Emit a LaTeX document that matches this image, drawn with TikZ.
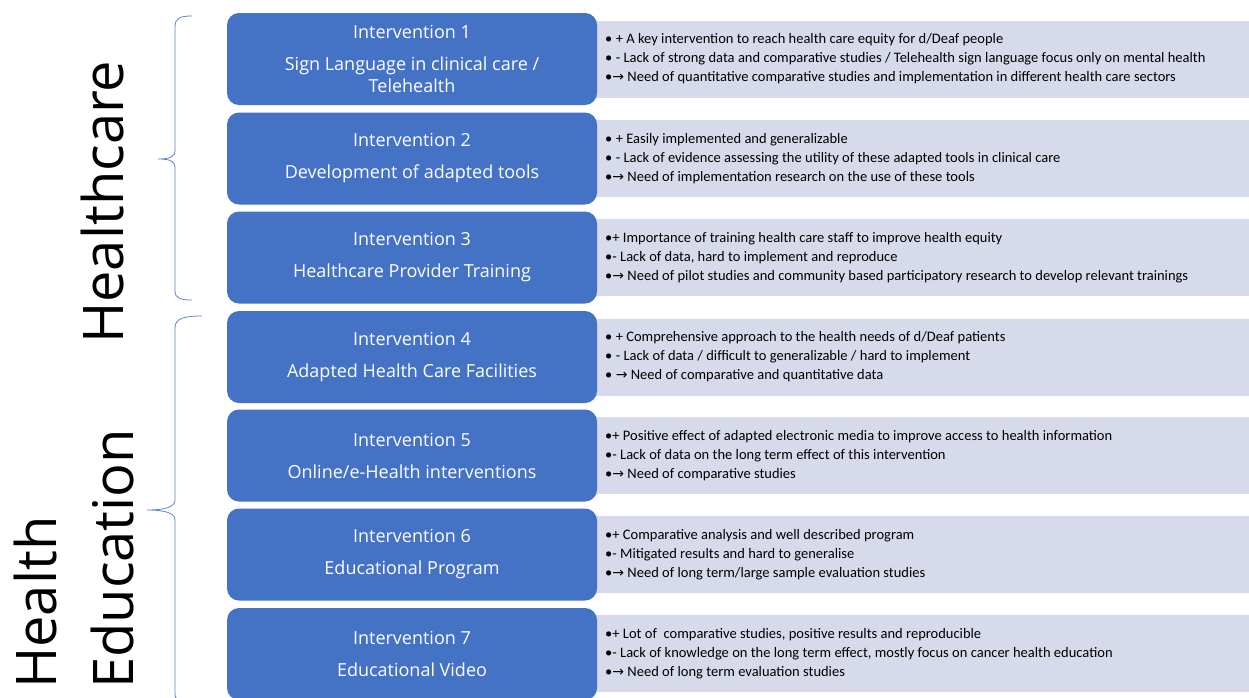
\documentclass[tikz,border=0pt]{standalone}
\usepackage{fontspec}
\setmainfont{Open Sans}
\newfontfamily\notefont{Carlito}
\newfontfamily\symfont{DejaVu Sans}
\definecolor{ivblue}{HTML}{4472C4}
\definecolor{notegrey}{HTML}{D6DAEA}
\definecolor{braceblue}{HTML}{5B80CC}
\newcommand{\needarrow}{{\symfont\fontsize{14}{19}\selectfont →}}
\newcommand{\notelines}[3]{{\notefont\fontsize{14.5}{19}\selectfont
    \begin{tabular}{@{}l@{}}#1\\#2\\#3\end{tabular}}}

\begin{document}
\begin{tikzpicture}[x=1pt, y=-1pt,
    ivbox/.style={fill=ivblue, rounded corners=12pt, minimum width=370pt,
        minimum height=92pt, inner sep=0pt, text=white, align=center,
        font=\fontsize{18}{22}\selectfont},
    notebox/.style={fill=notegrey, anchor=west, minimum height=77pt,
        text width=629pt, inner xsep=15pt, inner ysep=0pt, align=left},
    groupbrace/.style={draw=braceblue, line width=0.8pt},
    groupword/.style={rotate=90, inner sep=0pt, align=left,
        font=\fontsize{56}{77}\selectfont}]
    \useasboundingbox (0, 0) rectangle (1249, 697);
    \clip (0, 0) rectangle (1249, 697);

    % grey notes behind the boxes
    \node [notebox] (n1) at (590, 59)
        {\notelines{• + A key intervention to reach health care equity for d/Deaf people}
        {• - Lack of strong data and comparative studies / Telehealth sign language focus only on mental health}
        {•\needarrow{} Need of quantitative comparative studies and implementation in different health care sectors}};
    \node [notebox] (n2) at (590, 158.5)
        {\notelines{• + Easily implemented and generalizable}
        {• - Lack of evidence assessing the utility of these adapted tools in clinical care}
        {•\needarrow{} Need of implementation research on the use of these tools}};
    \node [notebox] (n3) at (590, 257.5)
        {\notelines{•+ Importance of training health care staff to improve health equity}
        {•- Lack of data, hard to implement and reproduce}
        {•\needarrow{} Need of pilot studies and community based participatory research to develop relevant trainings}};
    \node [notebox] (n4) at (590, 357)
        {\notelines{• + Comprehensive approach to the health needs of d/Deaf patients}
        {• - Lack of data / difficult to generalizable / hard to implement}
        {• \needarrow{} Need of comparative and quantitative data}};
    \node [notebox] (n5) at (590, 455.5)
        {\notelines{•+ Positive effect of adapted electronic media to improve access to health information}
        {•- Lack of data on the long term effect of this intervention}
        {•\needarrow{} Need of comparative studies}};
    \node [notebox] (n6) at (590, 554.5)
        {\notelines{•+ Comparative analysis and well described program}
        {•- Mitigated results and hard to generalise}
        {•\needarrow{} Need of long term/large sample evaluation studies}};
    \node [notebox] (n7) at (590, 653.5)
        {\notelines{•+ Lot of \ comparative studies, positive results and reproducible}
        {•- Lack of knowledge on the long term effect, mostly focus on cancer health education}
        {•\needarrow{} Need of long term evaluation studies}};

    % intervention boxes
    \node [ivbox] (iv1) at (412, 59) {Intervention 1\\[10pt]Sign Language in clinical care /\\Telehealth};
    \node [ivbox] (iv2) at (412, 158.5) {Intervention 2\\[10pt]Development of adapted tools};
    \node [ivbox] (iv3) at (412, 257.5) {Intervention 3\\[10pt]Healthcare Provider Training};
    \node [ivbox] (iv4) at (412, 357) {Intervention 4\\[10pt]Adapted Health Care Facilities};
    \node [ivbox] (iv5) at (412, 455.5) {Intervention 5\\[10pt]Online/e-Health interventions};
    \node [ivbox] (iv6) at (412, 554.5) {Intervention 6\\[10pt]Educational Program};
    \node [ivbox] (iv7) at (412, 654) {Intervention 7\\[10pt]Educational Video};

    % braces and group names
    \draw [groupbrace] (192, 16) .. controls (180, 16) and (175, 18) .. (175, 27)
        -- (175, 150) .. controls (175, 157) and (170, 159) .. (158, 159)
        .. controls (170, 159) and (175, 161) .. (175, 168)
        -- (175, 291) .. controls (175, 298) and (180, 300) .. (192, 300);
    \draw [groupbrace] (202, 316) .. controls (185, 316) and (175, 318) .. (175, 328)
        -- (175, 500) .. controls (175, 507) and (165, 510) .. (147, 510)
        .. controls (165, 510) and (175, 513) .. (175, 520)
        -- (175, 694) .. controls (175, 702) and (185, 704) .. (202, 704);
    \node [groupword, anchor=base west] (hc) at (123, 344) {Healthcare};
    \node [groupword, anchor=south west] (he) at (134, 689) {Health\\Education};
\end{tikzpicture}
\end{document}
